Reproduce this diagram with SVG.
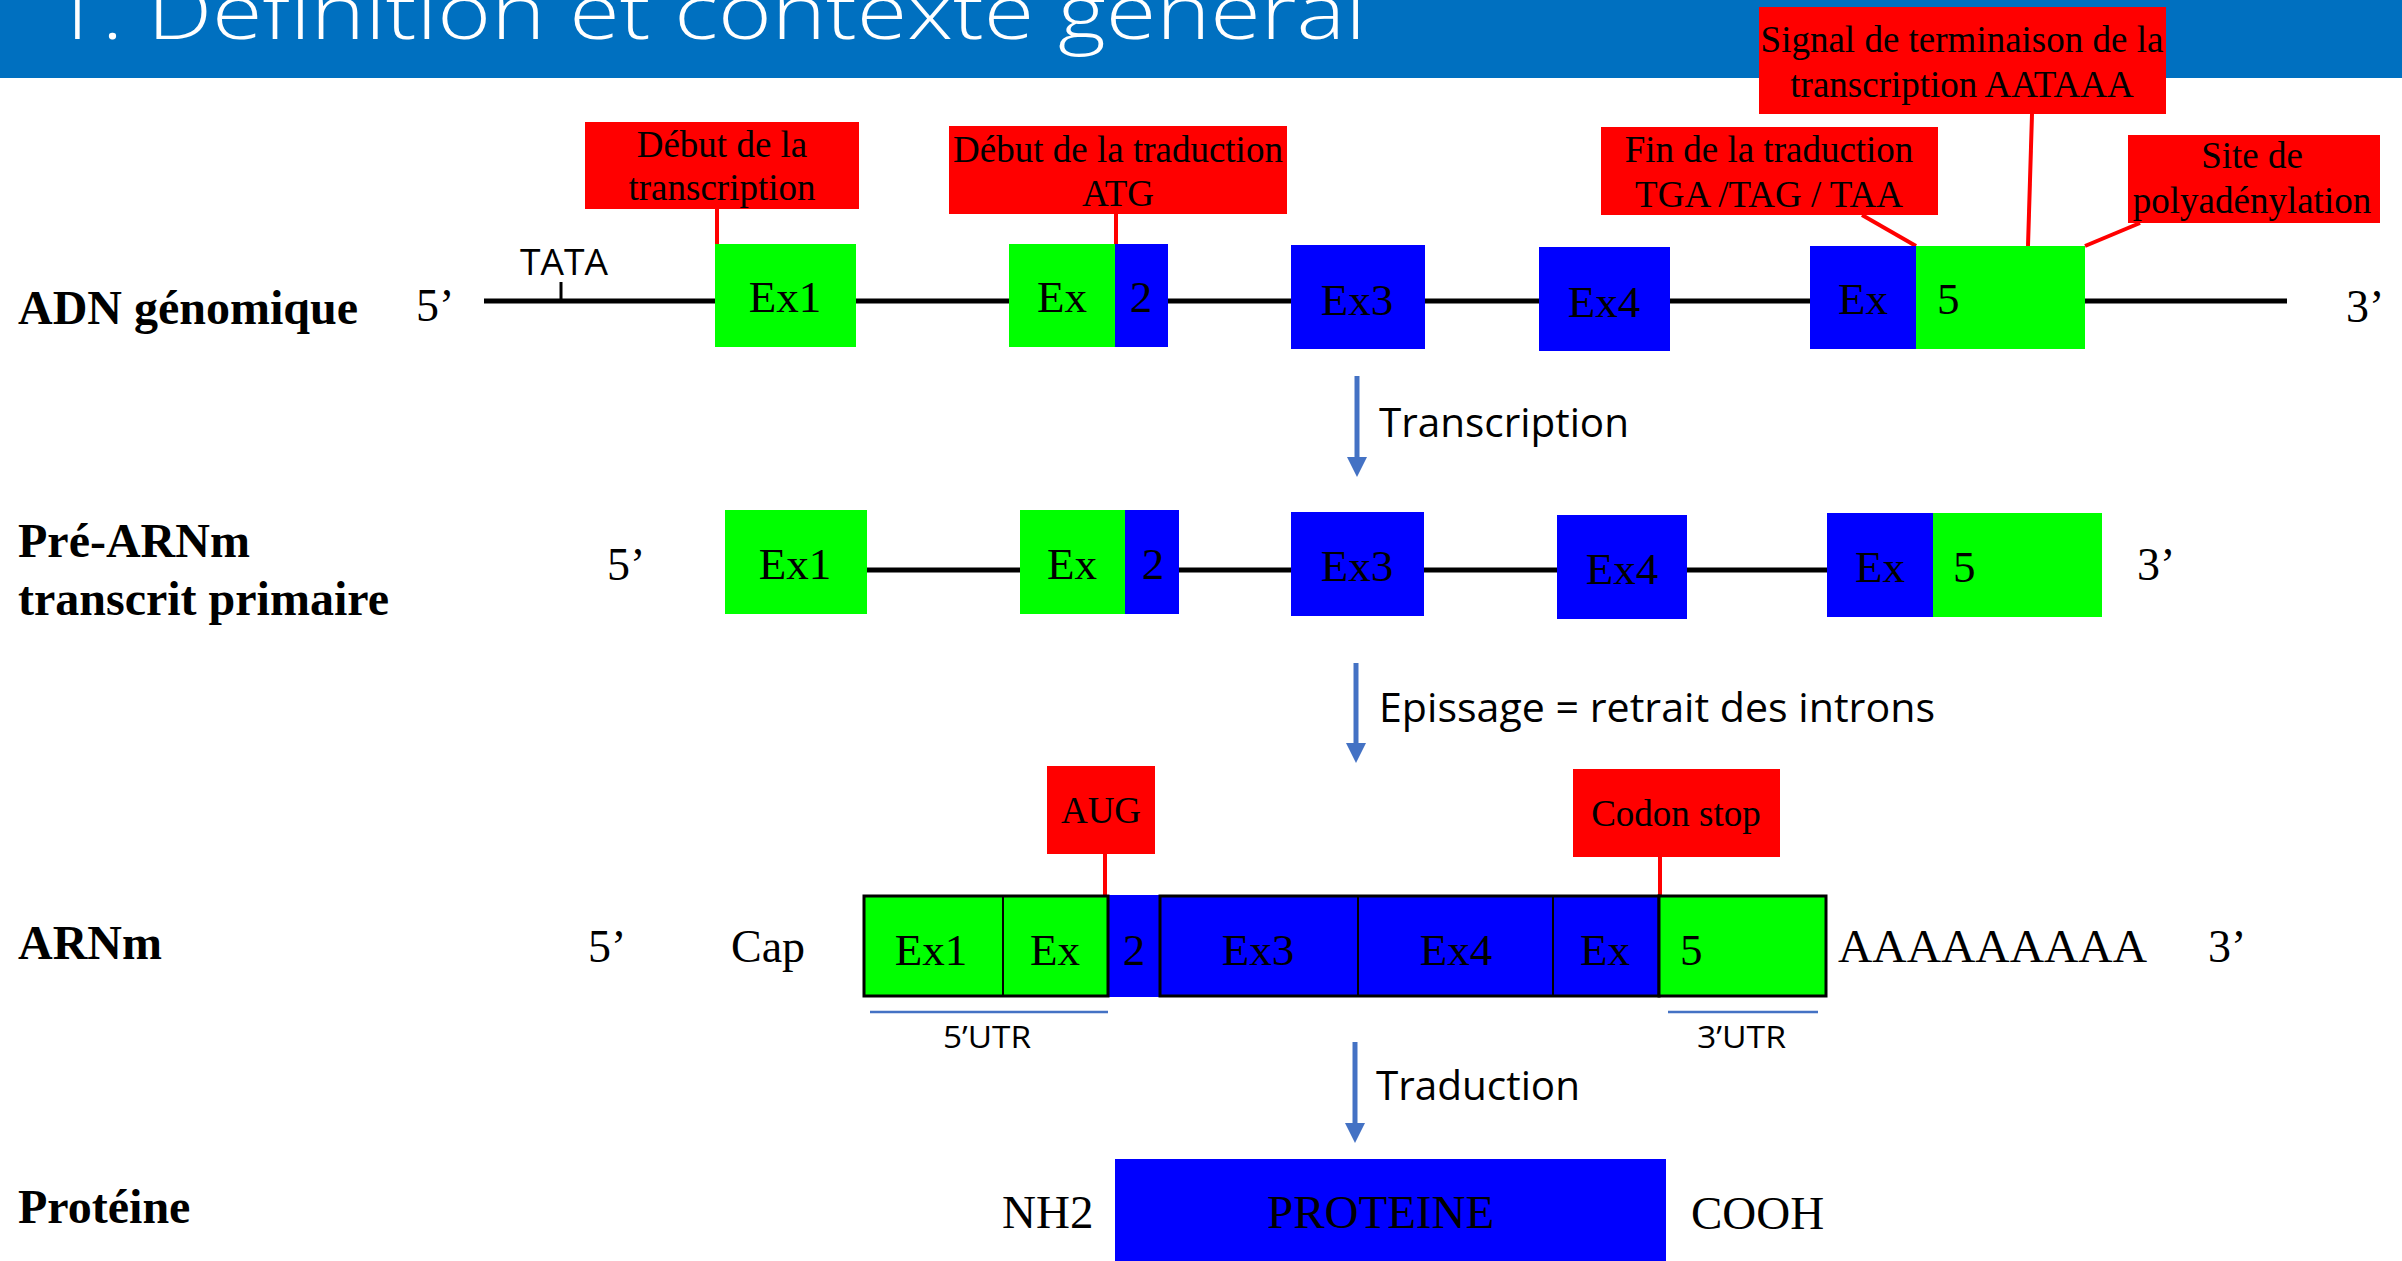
<svg xmlns="http://www.w3.org/2000/svg" width="2402" height="1261" viewBox="0 0 2402 1261">
<style>
.serif{font-family:"Liberation Serif","Times New Roman",serif;fill:#000}
.ex{font-size:45px}
.mid{text-anchor:middle}
.lab{font-size:37px;text-anchor:middle}
.big{font-size:48px;font-weight:bold}
.end{font-size:46px}
.sans{font-family:"Open Sans","Liberation Sans",sans-serif;fill:#000}
.g{fill:#00FF00}
.b{fill:#0000FF}
.r{fill:#FF0000}
.dna{stroke:#000;stroke-width:5}
.red{stroke:#FF0000;stroke-width:4;fill:none}
.utr{stroke:#4472C4;stroke-width:2.5}
.arr{stroke:#4472C4;stroke-width:5;marker-end:url(#ah)}
.seg{stroke:#000;stroke-width:3}
.div{stroke:#000;stroke-width:2}
</style>
<defs>
<marker id="ah" markerUnits="userSpaceOnUse" markerWidth="20" markerHeight="20" refX="0" refY="9" orient="auto" viewBox="0 0 18 18">
<path d="M0,0 L18,9 L0,18 z" fill="#4472C4"/>
</marker>
</defs>
<rect width="2402" height="1261" fill="#fff"/>
<g id="title">
<rect x="0" y="0" width="2402" height="78" fill="#0070C0"/>
<text x="49" y="39" font-family="Open Sans, Liberation Sans, sans-serif" font-weight="300" font-size="76" fill="#fff" textLength="1317" lengthAdjust="spacingAndGlyphs">1. Définition et contexte général</text>
</g>
<g id="row-labels" class="serif big">
<text x="18" y="324">ADN génomique</text>
<text x="18" y="557">Pré-ARNm</text>
<text x="18" y="615">transcrit primaire</text>
<text x="18" y="959">ARNm</text>
<text x="18" y="1223">Protéine</text>
</g>
<g id="connectors">
<line class="dna" x1="484" y1="301" x2="2287" y2="301"/>
<line x1="561" y1="282" x2="561" y2="301" stroke="#000" stroke-width="3"/>
<line class="dna" x1="867" y1="570" x2="1827" y2="570"/>
<line class="red" x1="717" y1="209" x2="717" y2="244"/>
<line class="red" x1="1116" y1="214" x2="1116" y2="244"/>
<line class="red" x1="1862" y1="215" x2="1916" y2="246"/>
<line class="red" x1="2032" y1="114" x2="2028" y2="246"/>
<line class="red" x1="2140" y1="223" x2="2085" y2="246"/>
<line class="red" x1="1105" y1="854" x2="1105" y2="897"/>
<line class="red" x1="1660" y1="857" x2="1660" y2="901"/>
<line class="arr" x1="1357" y1="376" x2="1357" y2="457"/>
<line class="arr" x1="1356" y1="663" x2="1356" y2="743"/>
<line class="arr" x1="1355" y1="1042" x2="1355" y2="1123"/>
<line class="utr" x1="870" y1="1012" x2="1108" y2="1012"/>
<line class="utr" x1="1668" y1="1012" x2="1818" y2="1012"/>
</g>
<g id="row1-ends" class="serif end">
<text x="416" y="321">5’</text>
<text x="2346" y="322">3’</text>
</g>
<g id="tata">
<text class="sans" x="520" y="275" font-size="37" textLength="88" lengthAdjust="spacingAndGlyphs">TATA</text>
</g>
<g id="dna-ex1">
<rect class="g" x="715" y="244" width="141" height="103"/>
<text class="serif ex mid" x="785" y="312">Ex1</text>
</g>
<g id="dna-ex2">
<rect class="g" x="1009" y="244" width="107" height="103"/>
<rect class="b" x="1115" y="244" width="53" height="103"/>
<text class="serif ex mid" x="1062" y="312">Ex</text>
<text class="serif ex mid" x="1141" y="312">2</text>
</g>
<g id="dna-ex3">
<rect class="b" x="1291" y="245" width="134" height="104"/>
<text class="serif ex mid" x="1357" y="315">Ex3</text>
</g>
<g id="dna-ex4">
<rect class="b" x="1539" y="247" width="131" height="104"/>
<text class="serif ex mid" x="1604" y="317">Ex4</text>
</g>
<g id="dna-ex5">
<rect class="b" x="1810" y="246" width="107" height="103"/>
<rect class="g" x="1916" y="246" width="169" height="103"/>
<text class="serif ex mid" x="1863" y="314">Ex</text>
<text class="serif ex" x="1937" y="314">5</text>
</g>
<g id="lbl-debut-transcription">
<rect class="r" x="585" y="122" width="274" height="87"/>
<text class="serif lab" x="722" y="157">Début de la</text>
<text class="serif lab" x="722" y="200">transcription</text>
</g>
<g id="lbl-debut-traduction">
<rect class="r" x="949" y="126" width="338" height="88"/>
<text class="serif lab" x="1118" y="162">Début de la traduction</text>
<text class="serif lab" x="1118" y="206">ATG</text>
</g>
<g id="lbl-fin-traduction">
<rect class="r" x="1601" y="127" width="337" height="88"/>
<text class="serif lab" x="1769" y="162">Fin de la traduction</text>
<text class="serif lab" x="1769" y="207">TGA /TAG / TAA</text>
</g>
<g id="lbl-signal">
<rect class="r" x="1759" y="7" width="407" height="107"/>
<text class="serif lab" x="1962" y="52">Signal de terminaison de la</text>
<text class="serif lab" x="1962" y="97">transcription AATAAA</text>
</g>
<g id="lbl-polyA">
<rect class="r" x="2128" y="135" width="252" height="88"/>
<text class="serif lab" x="2252" y="168">Site de</text>
<text class="serif lab" x="2252" y="213">polyadénylation</text>
</g>
<g id="step-transcription">
<text class="sans" x="1379" y="437" font-size="41" textLength="250" lengthAdjust="spacingAndGlyphs">Transcription</text>
</g>
<g id="row2-ends" class="serif end">
<text x="607" y="580">5’</text>
<text x="2137" y="580">3’</text>
</g>
<g id="pre-ex1">
<rect class="g" x="725" y="510" width="142" height="104"/>
<text class="serif ex mid" x="795" y="579">Ex1</text>
</g>
<g id="pre-ex2">
<rect class="g" x="1020" y="510" width="106" height="104"/>
<rect class="b" x="1125" y="510" width="54" height="104"/>
<text class="serif ex mid" x="1072" y="579">Ex</text>
<text class="serif ex mid" x="1153" y="579">2</text>
</g>
<g id="pre-ex3">
<rect class="b" x="1291" y="512" width="133" height="104"/>
<text class="serif ex mid" x="1357" y="581">Ex3</text>
</g>
<g id="pre-ex4">
<rect class="b" x="1557" y="515" width="130" height="104"/>
<text class="serif ex mid" x="1622" y="584">Ex4</text>
</g>
<g id="pre-ex5">
<rect class="b" x="1827" y="513" width="107" height="104"/>
<rect class="g" x="1933" y="513" width="169" height="104"/>
<text class="serif ex mid" x="1880" y="582">Ex</text>
<text class="serif ex" x="1953" y="582">5</text>
</g>
<g id="step-epissage">
<text class="sans" x="1379" y="722" font-size="41" textLength="556" lengthAdjust="spacingAndGlyphs">Epissage = retrait des introns</text>
</g>
<g id="lbl-aug">
<rect class="r" x="1047" y="766" width="108" height="88"/>
<text class="serif lab" x="1101" y="823">AUG</text>
</g>
<g id="lbl-codon-stop">
<rect class="r" x="1573" y="769" width="207" height="88"/>
<text class="serif lab" x="1676" y="826">Codon stop</text>
</g>
<g id="mrna">
<rect class="b" x="1106" y="895" width="56" height="102"/>
<rect class="g seg" x="864" y="896" width="244" height="100"/>
<rect class="b seg" x="1160" y="896" width="499" height="100"/>
<rect class="g seg" x="1659" y="896" width="167" height="100"/>
<line class="div" x1="1003" y1="896" x2="1003" y2="996"/>
<line class="div" x1="1358" y1="896" x2="1358" y2="996"/>
<line class="div" x1="1553" y1="896" x2="1553" y2="996"/>
<text class="serif ex mid" x="931" y="965">Ex1</text>
<text class="serif ex mid" x="1055" y="965">Ex</text>
<text class="serif ex mid" x="1134" y="965">2</text>
<text class="serif ex mid" x="1258" y="965">Ex3</text>
<text class="serif ex mid" x="1456" y="965">Ex4</text>
<text class="serif ex mid" x="1605" y="965">Ex</text>
<text class="serif ex" x="1680" y="965">5</text>
</g>
<g id="row3-ends" class="serif end">
<text x="588" y="962">5’</text>
<text x="731" y="962">Cap</text>
<text x="1838" y="962" textLength="309" lengthAdjust="spacingAndGlyphs">AAAAAAAAA</text>
<text x="2208" y="962">3’</text>
</g>
<g id="utr-labels" class="sans" font-size="31">
<text x="943" y="1048" textLength="88" lengthAdjust="spacingAndGlyphs">5’UTR</text>
<text x="1697" y="1048" textLength="89" lengthAdjust="spacingAndGlyphs">3’UTR</text>
</g>
<g id="step-traduction">
<text class="sans" x="1376" y="1100" font-size="41" textLength="204" lengthAdjust="spacingAndGlyphs">Traduction</text>
</g>
<g id="protein">
<rect class="b" x="1115" y="1159" width="551" height="110"/>
<text class="serif" x="1267" y="1228" font-size="47">PROTEINE</text>
</g>
<g id="protein-ends" class="serif" font-size="47">
<text x="1002" y="1228">NH2</text>
<text x="1691" y="1229">COOH</text>
</g>
</svg>
